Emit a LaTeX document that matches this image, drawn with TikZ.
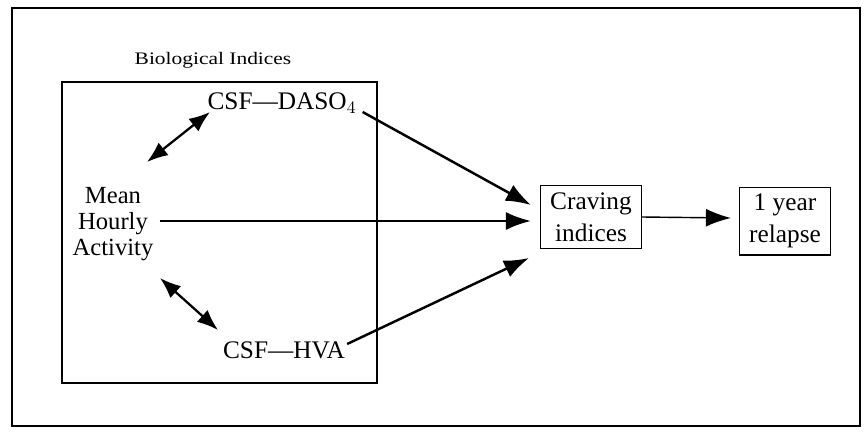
\documentclass[tikz,border=0pt]{standalone}
\usepackage{fontspec}
\setmainfont{Liberation Serif}
\usetikzlibrary{arrows.meta,calc}
\tikzset{
	box/.style={draw, line width=0.7pt, align=center, inner xsep=5.5pt, inner ysep=4pt, font=\Large},
	lbl/.style={align=center, font=\Large},
	fwd/.style={line width=1.4pt, -{Latex[length=5mm,width=3.6mm]}},
	dbl/.style={line width=1.3pt, {Latex[length=4.2mm,width=3.2mm]}-{Latex[length=4.2mm,width=3.2mm]}}
}

\begin{document}
\begin{tikzpicture}[x=0.02cm, y=-0.02cm]
			%%%%% FRAME %%%%%
			\useasboundingbox (0, 0) rectangle (867, 433);
			\draw[line width=0.6pt] (12, 8) rectangle (860, 426);
			
			\draw[line width=0.8pt] (62, 82) rectangle (377, 383);
			\node (bio) at (213, 60) {\scalebox{1.22}[1]{Biological Indices}};
			
			%%%%% NODES %%%%%
			\node[lbl] (daso) at (282, 103) {CSF---DASO$_4$};
			\node[lbl] (hva) at (284, 350) {CSF---HVA};
			\node[lbl, font=\fontsize{14}{15}\selectfont] (mha) at (113, 224) {Mean\\Hourly\\Activity};
			\node[box] (crav) at (591, 217) {Craving\\indices};
			\node[box] (relap) at (785, 221) {1 year\\relapse};
			
			%%%%% ARROWS %%%%%
			\draw[dbl] ($(mha)+(34,-62)$) -- ($(daso)+(-72,9)$);
			\draw[dbl] ($(mha)+(47,54)$) -- ($(hva)+(-66,-20)$);
			\draw[fwd] (mha.east |- 0,221) -- ($(crav.west)+(-9,4)$);
			\draw[fwd] ($(daso.east)+(0,9)$) -- ($(crav.west)+(-9,-12)$);
			\draw[fwd] ($(hva.east)+(-4,-6)$) -- ($(crav.west)+(-11,41)$);
			\draw[fwd, line width=0.8pt] (crav.east) -- ($(relap.west)+(-8,-3)$);
			
		\end{tikzpicture}
\end{document}
